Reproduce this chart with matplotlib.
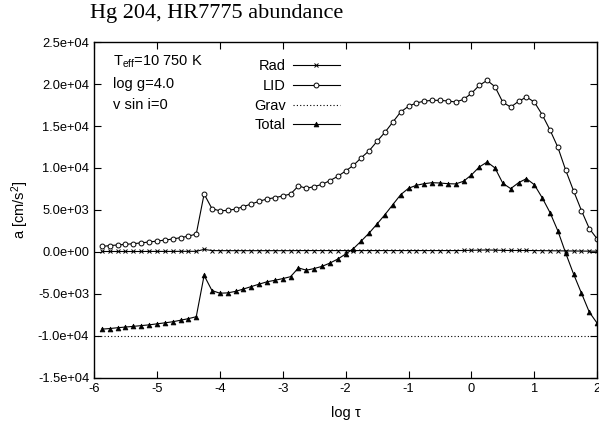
import matplotlib
matplotlib.use("Agg")
import matplotlib.pyplot as plt
import numpy as np

plt.rcParams['font.family'] = ['Liberation Sans', 'DejaVu Sans']
plt.rcParams['mathtext.fontset'] = 'custom'
plt.rcParams['mathtext.rm'] = 'Liberation Sans'
plt.rcParams['mathtext.it'] = 'Liberation Sans:italic'
plt.rcParams['axes.unicode_minus'] = False

# depth grid of the atmosphere model
log_tau = np.linspace(-5.875, 2.0, 64)

# accelerations in cm/s^2
lid = [650, 750, 830, 900, 980, 1080, 1180, 1290, 1410, 1540, 1700, 1880, 2130,
       6900, 5150, 4900, 4950, 5100, 5400, 5710, 6030, 6310, 6460, 6670, 6900,
       7860, 7580, 7780, 8050, 8490, 9010, 9640, 10320, 11230, 12060, 13180,
       14250, 15460, 16670, 17350, 17750, 17960, 18060, 18060, 17980, 17860,
       18170, 18890, 19840, 20440, 19680, 17820, 17260, 17940, 18450, 17860,
       16350, 14520, 12460, 9720, 7260, 4920, 2770, 1550]

total = [-9200, -9130, -9030, -8950, -8870, -8780, -8690, -8570, -8450, -8320,
         -8140, -7950, -7720, -2800, -4600, -4920, -4880, -4700, -4420, -4130,
         -3840, -3560, -3380, -3180, -2950, -1900, -2180, -1980, -1720, -1330,
         -850, -250, 400, 1310, 2260, 3330, 4440, 5630, 6820, 7580, 7940, 8130,
         8250, 8210, 8130, 8100, 8420, 9170, 10120, 10710, 10000, 8170, 7540,
         8250, 8730, 8010, 6460, 4680, 2500, -160, -2650, -4920, -7180, -8500]

rad = [50, 50, 50, 50, 50, 50, 60, 60, 60, 60, 70, 70, 70,
       300, 160, 150, 150, 150, 150, 150, 150, 150, 150, 150, 150,
       160, 160, 160, 160, 160, 160, 160, 160, 160, 160, 160, 160, 160, 160,
       160, 160, 160, 160, 160, 160, 160, 170, 190, 210, 230, 210, 180, 170,
       170, 170, 160, 150, 140, 130, 120, 110, 100, 90, 90]

grav_level = -1.0e4

fig, ax = plt.subplots(figsize=(5.99, 4.25), dpi=100)
fig.subplots_adjust(left=0.157, right=0.997, top=0.901, bottom=0.111)

ax.plot(log_tau, rad, color='k', lw=0.8, marker='x', ms=2.5, mew=0.7, label='Rad')
ax.plot(log_tau, lid, color='k', lw=0.8, marker='o', ms=3.5, mew=0.7,
        mfc='white', label='LID')
ax.axhline(grav_level, color='k', lw=0.8, ls=(0, (1, 2)), label='Grav')
ax.plot(log_tau, total, color='k', lw=0.8, marker='^', ms=3.5, mew=0.5, label='Total')

ax.set_xlim(-6, 2)
ax.set_ylim(-1.5e4, 2.5e4)
ax.set_xticks(np.arange(-6, 3, 1))
ax.set_yticks(np.arange(-1.5e4, 2.6e4, 5e3))
ax.set_yticklabels(['%.1e' % v for v in ax.get_yticks()])
ax.tick_params(direction='in', top=True, right=True, length=5, labelsize=9.3)
for s in ax.spines.values():
    s.set_linewidth(1.0)

ax.set_xlabel('log τ', fontsize=10.5, labelpad=8)
ax.set_ylabel('a [cm/s$^2$]', fontsize=10.5, labelpad=5)
fig.text(0.15, 0.968, 'Hg 204, HR7775 abundance', family='Liberation Serif',
         fontsize=16, va='center', ha='left')

ax.text(0.038, 0.94, 'T$_{\\rm eff}$=10 750 K', transform=ax.transAxes,
        fontsize=10.5, va='center')
ax.text(0.038, 0.876, 'log g=4.0', transform=ax.transAxes, fontsize=10.5, va='center')
ax.text(0.038, 0.812, 'v sin i=0', transform=ax.transAxes, fontsize=10.5, va='center')

ax.legend(loc='upper right', bbox_to_anchor=(0.5, 0.967), frameon=False,
          markerfirst=False, fontsize=10.5, handlelength=3.2, labelspacing=0.4,
          handletextpad=0.5, borderaxespad=0)

fig.savefig('out.png', dpi=100)
